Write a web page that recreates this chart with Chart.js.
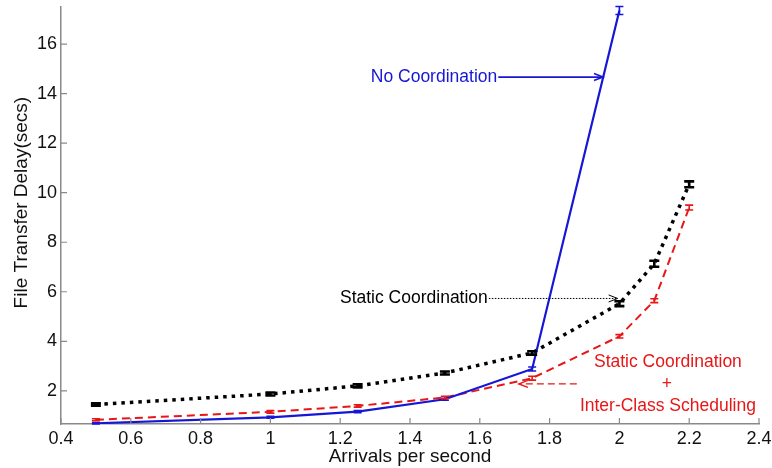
<!DOCTYPE html>
<html>
<head>
<meta charset="utf-8">
<script src="https://cdn.jsdelivr.net/npm/chart.js@4/dist/chart.umd.min.js"></script>
<style>
  html, body { margin: 0; padding: 0; background: #fff; }
  #wrap { width: 772px; height: 468px; }
</style>
</head>
<body>
<div id="wrap"><canvas id="chart" width="772" height="468"></canvas></div>
<script>
// arrivals per second (x)
const arrivals = [0.5, 1, 1.25, 1.5, 1.75, 2, 2.1, 2.2];
const blueArrivals = [0.5, 1, 1.25, 1.5, 1.75, 2];

// file transfer delay (secs)
const staticCoord = [1.45, 1.87, 2.2, 2.72, 3.53, 5.52, 7.13, 10.34];
const staticErr   = [0.05, 0.06, 0.06, 0.06, 0.07, 0.1, 0.12, 0.12];
const interClass  = [0.83, 1.15, 1.39, 1.73, 2.51, 4.2, 5.64, 9.4];
const interErr    = [0.04, 0.05, 0.05, 0.05, 0.08, 0.07, 0.08, 0.1];
const noCoord     = [0.69, 0.93, 1.16, 1.66, 2.88, 17.36];
const noCoordErr  = [0.03, 0.04, 0.04, 0.04, 0.08, 0.16];

const xTicks = [0.4, 0.6, 0.8, 1, 1.2, 1.4, 1.6, 1.8, 2, 2.2, 2.4];
const yTicks = [2, 4, 6, 8, 10, 12, 14, 16];

const BLUE = 'rgb(22,22,214)';
const RED = 'rgb(232,22,22)';
const BLACK = '#000';
const FONT = 'Liberation Sans, Arial, sans-serif';

function pts(xs, ys) { return xs.map((x, i) => ({x: x, y: ys[i]})); }

// error bars, inward ticks, y title and the annotation labels
const extras = {
  id: 'extras',
  afterDatasetsDraw(chart) {
    const ctx = chart.ctx, xs = chart.scales.x, ys = chart.scales.y;
    const sets = [
      [blueArrivals, noCoord, noCoordErr, BLUE, 1.6, 4],
      [arrivals, interClass, interErr, RED, 1.6, 4],
      [arrivals, staticCoord, staticErr, BLACK, 2.6, 5]
    ];
    ctx.save();
    sets.forEach(([xv, yv, ev, col, lw, cap]) => {
      ctx.strokeStyle = col; ctx.lineWidth = lw;
      xv.forEach((x, i) => {
        const px = xs.getPixelForValue(x);
        const lo = ys.getPixelForValue(yv[i] - ev[i]);
        const hi = ys.getPixelForValue(yv[i] + ev[i]);
        ctx.beginPath();
        ctx.moveTo(px, lo); ctx.lineTo(px, hi);
        ctx.moveTo(px - cap, lo); ctx.lineTo(px + cap, lo);
        ctx.moveTo(px - cap, hi); ctx.lineTo(px + cap, hi);
        ctx.stroke();
      });
    });
    ctx.restore();
  },
  afterDraw(chart) {
    const ctx = chart.ctx, xs = chart.scales.x, ys = chart.scales.y;
    const a = chart.chartArea;
    ctx.save();
    // inward tick marks
    ctx.strokeStyle = '#8a8a8a'; ctx.lineWidth = 1.2;
    ctx.beginPath();
    xTicks.forEach(v => {
      const px = xs.getPixelForValue(v);
      ctx.moveTo(px, a.bottom); ctx.lineTo(px, a.bottom - 6);
    });
    yTicks.forEach(v => {
      const py = ys.getPixelForValue(v);
      ctx.moveTo(a.left, py); ctx.lineTo(a.left + 6, py);
    });
    ctx.stroke();

    // y axis title
    ctx.save();
    ctx.translate(22, ys.getPixelForValue(9.6));
    ctx.rotate(-Math.PI / 2);
    ctx.fillStyle = '#111';
    ctx.font = '19px ' + FONT;
    ctx.textAlign = 'center'; ctx.textBaseline = 'middle';
    ctx.fillText('File Transfer Delay(secs)', 0, 0);
    ctx.restore();

    function arrow(x1, y1, x2, y2, col, dash, lw) {
      const p1x = xs.getPixelForValue(x1), p1y = ys.getPixelForValue(y1);
      const p2x = xs.getPixelForValue(x2), p2y = ys.getPixelForValue(y2);
      ctx.strokeStyle = col; ctx.lineWidth = lw;
      ctx.setLineDash(dash);
      ctx.beginPath(); ctx.moveTo(p1x, p1y); ctx.lineTo(p2x, p2y); ctx.stroke();
      ctx.setLineDash([]);
      const d = p2x > p1x ? -1 : 1;
      ctx.beginPath();
      ctx.moveTo(p2x + d * 9, p2y - 3.5);
      ctx.lineTo(p2x, p2y);
      ctx.lineTo(p2x + d * 9, p2y + 3.5);
      ctx.stroke();
    }
    function label(txt, x, y, col, align) {
      ctx.fillStyle = col;
      ctx.font = '17.5px ' + FONT;
      ctx.textAlign = align; ctx.textBaseline = 'middle';
      ctx.fillText(txt, xs.getPixelForValue(x), ys.getPixelForValue(y));
    }
    label('No Coordination', 1.65, 14.67, BLUE, 'right');
    arrow(1.653, 14.67, 1.953, 14.67, BLUE, [], 1.6);
    label('Static Coordination', 1.623, 5.73, BLACK, 'right');
    arrow(1.626, 5.73, 1.995, 5.73, BLACK, [1.5, 1.5], 1);
    label('Static Coordination', 2.139, 3.15, RED, 'center');
    label('+', 2.136, 2.28, RED, 'center');
    label('Inter-Class Scheduling', 2.139, 1.4, RED, 'center');
    arrow(1.878, 2.28, 1.712, 2.28, RED, [7, 4], 1.4);
    ctx.restore();
  }
};

new Chart(document.getElementById('chart'), {
  type: 'line',
  data: {
    datasets: [
      {
        label: 'No Coordination',
        data: pts(blueArrivals, noCoord),
        borderColor: BLUE, borderWidth: 2.2,
        pointRadius: 0, tension: 0
      },
      {
        label: 'Static Coordination + Inter-Class Scheduling',
        data: pts(arrivals, interClass),
        borderColor: RED, borderWidth: 2, borderDash: [8, 5],
        pointRadius: 0, tension: 0
      },
      {
        label: 'Static Coordination',
        data: pts(arrivals, staticCoord),
        borderColor: BLACK, borderWidth: 3.5, borderDash: [3.5, 5],
        pointRadius: 0, tension: 0
      }
    ]
  },
  options: {
    responsive: false,
    animation: false,
    layout: { padding: { top: 7, right: 13, left: 0, bottom: 0 } },
    plugins: { legend: { display: false }, tooltip: { enabled: false } },
    scales: {
      x: {
        type: 'linear', min: 0.4, max: 2.4,
        afterBuildTicks: s => { s.ticks = xTicks.map(v => ({value: v})); },
        afterFit: s => { s.height = 44; s.paddingLeft = 0; s.paddingRight = 0; },
        grid: { display: false, drawTicks: false },
        border: { color: '#8a8a8a', width: 1.5 },
        ticks: {
          color: '#111', padding: 4, maxRotation: 0, autoSkip: false,
          font: { family: FONT, size: 18 },
          callback: v => String(Number(v.toFixed(1)))
        },
        title: {
          display: true, text: 'Arrivals per second', color: '#111',
          font: { family: FONT, size: 19 }, padding: { top: 0, bottom: 0 }
        }
      },
      y: {
        min: 0.66, max: 17.5,
        afterBuildTicks: s => { s.ticks = yTicks.map(v => ({value: v})); },
        afterFit: s => { s.width = 61; s.paddingTop = 0; s.paddingBottom = 0; },
        grid: { display: false, drawTicks: false },
        border: { color: '#8a8a8a', width: 1.5 },
        ticks: {
          color: '#111', padding: 4,
          font: { family: FONT, size: 18 }
        },
        title: { display: false }
      }
    }
  },
  plugins: [extras]
});
</script>
</body>
</html>
